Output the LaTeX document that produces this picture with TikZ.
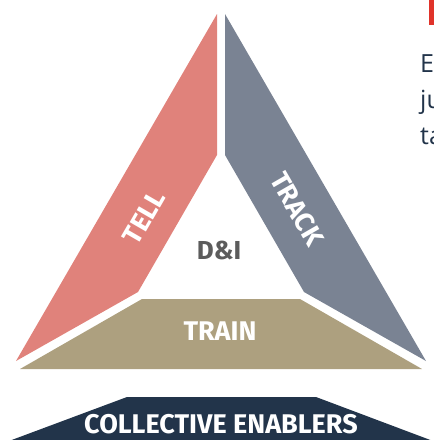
\documentclass[tikz,border=0pt]{standalone}
\usepackage{fontspec}
\setmainfont{Fira Sans}
\newfontfamily\labelfont{Fira Sans}
\newfontfamily\bodyfont{Open Sans}

\definecolor{tellred}{HTML}{E0827B}
\definecolor{trackgray}{HTML}{7A8393}
\definecolor{traintan}{HTML}{ADA07F}
\definecolor{enablernavy}{HTML}{22344A}
\definecolor{dgray}{HTML}{5C5C5C}
\definecolor{barred}{HTML}{E0332A}

\tikzset{
    side/.style={white, font=\labelfont\bfseries\fontsize{27}{27}\selectfont},
    body/.style={enablernavy, anchor=base west, inner sep=0pt, font=\bodyfont\fontsize{25}{25}\selectfont}
}

\begin{document}
\begin{tikzpicture}[x=1pt, y=-1pt]
            \useasboundingbox (0, 0) rectangle (434, 440);

            \coordinate (A1) at (217, 14);
            \coordinate (B1) at (217, 155);
            \coordinate (C1) at (138, 292);
            \coordinate (D1) at (16, 361);

            \coordinate (A2) at (225, 14);
            \coordinate (B2) at (225, 155);
            \coordinate (C2) at (304, 292);
            \coordinate (D2) at (426, 361);

            \coordinate (A3) at (142, 299);
            \coordinate (B3) at (300, 299);
            \coordinate (C3) at (422, 369);
            \coordinate (D3) at (20, 369);

            \coordinate (A4) at (127, 397);
            \coordinate (B4) at (316, 397);
            \coordinate (C4) at (433, 441);
            \coordinate (D4) at (9, 441);

            \fill[tellred] (A1) -- (B1) -- (C1) -- (D1) -- cycle;
            \fill[trackgray] (A2) -- (B2) -- (C2) -- (D2) -- cycle;
            \fill[traintan] (A3) -- (B3) -- (C3) -- (D3) -- cycle;
            \fill[enablernavy] (A4) -- (B4) -- (C4) -- (D4) -- cycle;

            \node[side, rotate=60] (tell) at (144, 217) {TELL};
            \node[side, rotate=-60] (track) at (297, 209) {TRACK};
            \node[side] (train) at (220, 331) {TRAIN};
            \node[side, dgray, font=\labelfont\bfseries\fontsize{26}{26}\selectfont] (di) at (219, 250) {D\&I};
            \node[side] (enablers) at (221, 424) {COLLECTIVE ENABLERS};

            % cut-off text on the right
            \fill[barred] (429, 0) rectangle (434, 25);
            \node[body] (line1) at (420, 72) {E};
            \node[body] (line2) at (420, 108) {ju};
            \node[body] (line3) at (420, 144) {ta};
        \end{tikzpicture}
\end{document}
